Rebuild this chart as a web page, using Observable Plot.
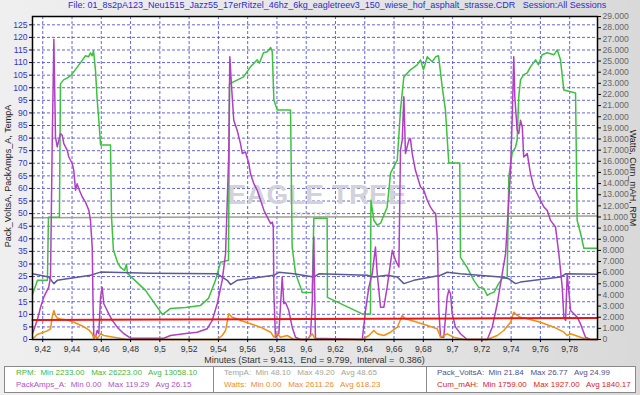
<!DOCTYPE html>
<html><head><meta charset="utf-8">
<script src="https://cdn.jsdelivr.net/npm/d3@7"></script>
<script src="https://cdn.jsdelivr.net/npm/@observablehq/plot@0.6"></script>
<style>
html,body{margin:0;padding:0;}
body{width:640px;height:395px;overflow:hidden;position:relative;background:linear-gradient(90deg,#efefef 0%,#e4e4e4 60%,#d9d9d9 100%);font-family:"Liberation Sans",Arial,sans-serif;}
#title{position:absolute;left:68px;top:0px;font-size:9px;line-height:11px;color:#2b2bd0;white-space:pre;}
#chart{position:absolute;left:0;top:0;}
.ylab{position:absolute;font-size:9px;color:#222;white-space:nowrap;}
#ylabL{left:8px;top:176px;transform:translate(-50%,-50%) rotate(-90deg);}
#ylabR{left:633px;top:178px;transform:translate(-50%,-50%) rotate(90deg);}
#xlab{position:absolute;left:0;width:629px;top:355px;text-align:center;font-size:9px;color:#333;white-space:pre;}
#legend{position:absolute;left:4px;top:366px;width:630px;height:25px;background:#fff;border:1px solid #8a8a8a;font-size:8px;}
.cell{position:absolute;top:0;height:25px;}
.cell div{white-space:pre;line-height:12px;height:12px;padding-left:11px;}
.sep{position:absolute;top:0;width:1px;height:25px;background:#8a8a8a;}
</style>
</head><body>
<div id="title">File: 01_8s2pA123_Neu1515_Jazz55_17erRitzel_46hz_6kg_eagletreev3_150_wiese_hof_asphalt_strasse.CDR   Session:All Sessions</div>
<div id="chart"></div>
<div class="ylab" id="ylabL">Pack_VoltsA, PackAmps_A, TempA</div>
<div class="ylab" id="ylabR">Watts, Cum_mAH, RPM</div>
<div id="xlab">Minutes (Start = 9.413,  End = 9.799,  Interval =  0.386)</div>
<div id="legend"></div>
<script>
// ---- tick definitions ----
const xTicks = [9.42,9.44,9.46,9.48,9.50,9.52,9.54,9.56,9.58,9.60,9.62,9.64,9.66,9.68,9.70,9.72,9.74,9.76,9.78];
const xTickLabels = ["9,42","9,44","9,46","9,48","9,5","9,52","9,54","9,56","9,58","9,6","9,62","9,64","9,66","9,68","9,7","9,72","9,74","9,76","9,78"];
const leftTicks = [0,5,10,15,20,25,30,35,40,45,50,55,60,65,70,75,80,85,90,95,100,105,110,115,120,125];
const rightTicks = [0,1000,2000,3000,4000,5000,6000,7000,8000,9000,10000,11000,12000,13000,14000,15000,16000,17000,18000,19000,20000,21000,22000,23000,24000,25000,26000,27000,28000,29000];
const leftMax = 128.3, rightMax = 29000;

// ---- series (minutes, value) ----
const rpmT = [9.4130,9.4164,9.4232,9.4239,9.4314,9.4321,9.4342,9.4369,9.4396,9.4437,9.4472,9.4492,9.4513,9.4526,9.4538,9.4547,9.4560,9.4572,9.4583,9.4595,9.4663,9.4670,9.4683,9.4711,9.4731,9.4759,9.4772,9.4779,9.4902,9.5018,9.5073,9.5175,9.5278,9.5332,9.5380,9.5414,9.5469,9.5476,9.5531,9.5572,9.5619,9.5665,9.5680,9.5708,9.5734,9.5757,9.5768,9.5779,9.5802,9.5893,9.5904,9.5927,9.5961,9.5973,9.6041,9.6052,9.6143,9.6145,9.6383,9.6439,9.6442,9.6462,9.6485,9.6508,9.6553,9.6576,9.6622,9.6644,9.6667,9.6712,9.6758,9.6781,9.6801,9.6827,9.6861,9.6884,9.6904,9.6929,9.6951,9.6974,9.7049,9.7054,9.7099,9.7145,9.7179,9.7213,9.7237,9.7259,9.7282,9.7316,9.7339,9.7373,9.7384,9.7407,9.7430,9.7441,9.7452,9.7464,9.7484,9.7510,9.7532,9.7567,9.7587,9.7612,9.7646,9.7692,9.7715,9.7737,9.7760,9.7840,9.7851,9.7874,9.7897,9.7990];
const rpmV = [4050,5310,5310,10980,10980,22950,23310,23490,23760,24480,25110,25470,25380,25740,25470,25920,24210,21510,19710,17460,17460,10980,8010,6930,6480,6210,6750,5940,4410,2233,2790,2880,3060,3690,5310,6930,7110,22950,23310,23580,24480,25110,24810,25740,25830,26223,25830,21510,20610,20610,8310,5940,4680,4230,4230,10890,10890,3780,2300,2300,12510,10710,10260,10440,11880,14940,16110,20610,23580,24210,24660,25110,24210,25380,24930,25380,25470,22680,20610,15840,15840,7380,6480,5310,4680,4590,3960,4140,4230,5040,5490,5580,14580,16740,17280,17910,21780,23310,23760,23940,24480,25110,24660,25560,25740,25560,26010,25110,22410,22140,10710,9540,8190,8190];

const ampsT = [9.4130,9.4162,9.4185,9.4207,9.4241,9.4253,9.4265,9.4276,9.4287,9.4299,9.4321,9.4333,9.4344,9.4367,9.4378,9.4401,9.4412,9.4424,9.4435,9.4446,9.4470,9.4492,9.4515,9.4526,9.4538,9.4544,9.4549,9.4560,9.4572,9.4583,9.4595,9.4606,9.4617,9.4629,9.4651,9.4675,9.4709,9.4754,9.4800,9.5027,9.5073,9.5164,9.5255,9.5324,9.5358,9.5392,9.5426,9.5449,9.5471,9.5478,9.5490,9.5505,9.5528,9.5551,9.5563,9.5585,9.5608,9.5619,9.5642,9.5665,9.5688,9.5711,9.5734,9.5757,9.5768,9.5775,9.5779,9.5790,9.5813,9.5836,9.5847,9.5858,9.5881,9.5904,9.5927,9.5961,9.6008,9.6029,9.6041,9.6052,9.6063,9.6383,9.6405,9.6428,9.6451,9.6462,9.6473,9.6485,9.6508,9.6530,9.6553,9.6588,9.6610,9.6633,9.6644,9.6656,9.6667,9.6678,9.6701,9.6712,9.6724,9.6746,9.6781,9.6803,9.6827,9.6849,9.6872,9.6884,9.6895,9.6906,9.6918,9.6940,9.6963,9.6974,9.6986,9.6997,9.7020,9.7054,9.7099,9.7237,9.7271,9.7305,9.7339,9.7362,9.7373,9.7396,9.7407,9.7418,9.7425,9.7441,9.7452,9.7464,9.7476,9.7486,9.7510,9.7532,9.7555,9.7589,9.7624,9.7646,9.7669,9.7703,9.7726,9.7749,9.7760,9.7772,9.7783,9.7806,9.7828,9.7851,9.7874,9.7908,9.7942,9.7990];
const ampsV = [2.3,7.6,12.8,16.8,20.8,24.8,79.2,119.29,80.5,76.5,81.8,81.1,77.8,75.2,72.5,69.9,67.2,59.3,61.9,59.9,56.6,54.6,51.3,47.3,36.7,12.8,1.6,0.9,3.6,2.3,16.8,20.8,14.2,12.8,10.2,7.6,4.9,2.3,0.5,0.5,1.6,2.3,2.9,4.3,7.6,14.2,23.5,34.1,73.9,112.3,100.4,87.1,83.1,77.8,73.9,74.5,69.9,65.9,61.9,59.3,55.3,51.3,48.6,46.0,46.7,44.7,18.2,0.9,2.3,24.8,14.2,14.8,11.5,4.9,0.9,0,0,1.6,14.2,40.7,0.5,0,11.5,20.8,26.1,31.4,36.7,26.1,12.8,12.8,20.8,35.4,31.4,28.8,75.2,79.2,96.4,73.9,79.2,79.8,73.9,67.2,60.6,59.3,55.3,52.6,50.6,50.0,40.7,11.5,0.9,0.9,16.8,19.5,18.2,10.2,4.9,2.3,0,0,4.9,14.2,26.1,34.1,44.7,67.2,87.1,112.3,96.4,83.1,81.8,87.1,84.4,72.5,73.9,65.9,60.6,56.6,52.6,51.3,47.3,44.7,34.1,20.8,8.9,7.6,26.1,11.5,10.2,8.9,6.2,0.9,0,0];

const wattsT = [9.4130,9.4162,9.4207,9.4230,9.4253,9.4265,9.4276,9.4287,9.4299,9.4321,9.4367,9.4401,9.4424,9.4470,9.4515,9.4538,9.4549,9.4560,9.4572,9.4595,9.4617,9.4685,9.4777,9.5392,9.5426,9.5449,9.5471,9.5494,9.5528,9.5551,9.5619,9.5688,9.5757,9.5779,9.5802,9.5824,9.5870,9.5915,9.6008,9.6041,9.6063,9.6383,9.6428,9.6462,9.6485,9.6530,9.6576,9.6622,9.6656,9.6678,9.6758,9.6827,9.6895,9.6918,9.6963,9.7008,9.7077,9.7237,9.7305,9.7350,9.7396,9.7418,9.7441,9.7464,9.7510,9.7601,9.7692,9.7760,9.7783,9.7806,9.7874,9.7919,9.7990];
const wattsV = [50,450,660,765,960,2070,2611,2160,1935,1845,1755,1620,1485,1215,855,510,60,360,60,510,360,210,0,0,360,810,2310,2005,1865,1710,1410,1105,655,205,510,205,360,0,0,510,0,0,360,810,510,360,655,1105,2160,1865,1555,1260,965,205,510,205,0,0,360,810,1555,2455,2160,2005,1865,1555,1105,655,360,510,205,0,0];

const voltsT = [9.4130,9.4241,9.4276,9.4299,9.4390,9.4526,9.4595,9.4936,9.5392,9.5460,9.5483,9.5528,9.5779,9.5813,9.5915,9.6052,9.6086,9.6417,9.6462,9.6553,9.6622,9.6667,9.6735,9.6918,9.6963,9.7054,9.7327,9.7384,9.7430,9.7464,9.7737,9.7772,9.7990];
const voltsV = [26.1,24.8,22.2,23.5,24.3,25.5,26.77,26.3,26.1,23.5,21.84,23.5,25.5,26.7,26.1,24.8,26.1,25.5,24.8,25.5,24.8,22.2,23.5,25.5,26.7,26.1,24.8,24.1,22.2,22.8,24.8,26.1,25.9];

const tempT = [9.413,9.50,9.60,9.70,9.799];
const tempV = [48.4,48.6,48.7,48.9,49.1];

const mahT = [9.413,9.50,9.60,9.70,9.799];
const mahV = [1759,1790,1840,1885,1927];

// legend stats
const legendCells = [
  [["RPM:  Min 2233.00   Max 26223.00   Avg 13058.10","#3fb83f"],["PackAmps_A:  Min 0.00   Max 119.29   Avg 26.15","#b050c4"]],
  [["TempA:  Min 48.10   Max 49.20   Avg 48.65","#a5a595"],["Watts:  Min 0.00   Max 2611.26   Avg 618.23","#f08c1e"]],
  [["Pack_VoltsA:  Min 21.84   Max 26.77   Avg 24.99","#50508c"],["Cum_mAH:  Min 1759.00   Max 1927.00   Avg 1840.17","#e02020"]]
];

// ---- build ----
const k = leftMax / rightMax; // right-axis value -> left-axis units
const toRows = (T, V, s) => T.map((t, i) => ({t, v: V[i] * s}));
const rpm = toRows(rpmT, rpmV, k);
const amps = toRows(ampsT, ampsV, 1);
const watts = toRows(wattsT, wattsV, k);
const volts = toRows(voltsT, voltsV, 1);
const temp = toRows(tempT, tempV, 1);
const mah = toRows(mahT, mahV, k);

const lineOpts = (c, w) => ({x: "t", y: "v", stroke: c, strokeWidth: w, curve: "linear"});

const chart = Plot.plot({
  width: 640, height: 362,
  marginTop: 16, marginBottom: 23, marginLeft: 32, marginRight: 43,
  style: {background: "transparent", fontFamily: "'Liberation Sans', Arial, sans-serif", fontSize: "8.6px"},
  x: {domain: [9.413, 9.799]},
  y: {domain: [0, leftMax]},
  marks: [
    Plot.frame({fill: "white", stroke: "none"}),
    Plot.gridX(xTicks, {stroke: "#4a4ad8", strokeOpacity: 0.85, strokeDasharray: "3,2"}),
    Plot.gridY(leftTicks, {stroke: "#4a4ad8", strokeOpacity: 0.85, strokeDasharray: "3,2"}),
    Plot.text(["EAGLE TREE"], {frameAnchor: "middle", dx: 2, dy: 17, fontSize: 28, fontWeight: "bold", fill: "#d2d3da"}),
    Plot.text(["S Y S T E M S"], {frameAnchor: "middle", dx: 0, dy: 37, fontSize: 7, fill: "#cbcbd3"}),
    Plot.line(temp, lineOpts("#a09f90", 1.5)),
    Plot.line(rpm, lineOpts("#3cc23c", 1.5)),
    Plot.line(volts, lineOpts("#5a5a96", 1.5)),
    Plot.line(amps, lineOpts("#b13fc4", 1.5)),
    Plot.line(watts, lineOpts("#f0900f", 1.5)),
    Plot.line(mah, lineOpts("#e81515", 2)),
    Plot.axisX(xTicks, {anchor: "bottom", tickSize: 3, tickPadding: 3, label: null, fill: "#333", tickFormat: d => xTickLabels[xTicks.indexOf(d)]}),
    Plot.axisY(leftTicks, {anchor: "left", tickSize: 3, tickPadding: 2, label: null, fill: "#3434cc", tickFormat: d => String(d)}),
    Plot.axisY(rightTicks.map(v => v * k), {anchor: "right", tickSize: 3, tickPadding: 2, label: null, fill: "#666",
      tickFormat: d => { const v = Math.round(d / k / 1000) * 1000; return v === 0 ? "0" : (v / 1000).toFixed(3); }}),
    Plot.frame({stroke: "black", strokeWidth: 1.5})
  ]
});
document.getElementById("chart").append(chart);

// legend
const lg = document.getElementById("legend");
const cellX = [0, 208, 421];
const cellW = [208, 213, 209];
legendCells.forEach((rows, i) => {
  const c = document.createElement("div");
  c.className = "cell";
  c.style.left = cellX[i] + "px";
  c.style.width = cellW[i] + "px";
  rows.forEach(([txt, col]) => {
    const r = document.createElement("div");
    r.textContent = txt; r.style.color = col;
    c.append(r);
  });
  lg.append(c);
  if (i > 0) {
    const s = document.createElement("div");
    s.className = "sep"; s.style.left = cellX[i] + "px";
    lg.append(s);
  }
});
</script>
</body></html>
